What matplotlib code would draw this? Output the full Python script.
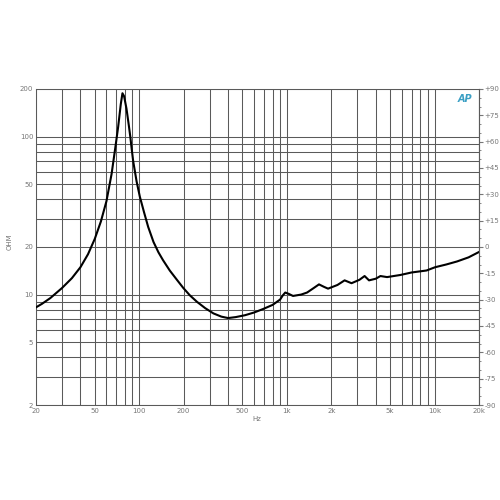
import matplotlib.pyplot as plt
from matplotlib.ticker import FixedLocator, NullFormatter, MultipleLocator

# impedance curve (Hz, ohm)
freq = [20, 22, 25, 30, 35, 40, 45, 50, 55, 60, 65, 69, 72, 75, 77, 79, 82, 85,
        87, 89, 91, 96, 101, 108, 115, 125, 135, 145, 161, 180, 199, 220, 246,
        280, 318, 360, 400, 450, 520, 600, 690, 800, 900, 940, 975, 1030, 1100,
        1250, 1370, 1520, 1650, 1780, 1900, 2200, 2460, 2740, 3100, 3360, 3600,
        4000, 4300, 4770, 5860, 7000, 8820, 10100, 12000, 14200, 17000, 20000]
ohm = [8.3, 8.75, 9.5, 11.0, 12.7, 14.9, 18.0, 22.5, 29, 39, 58, 86, 115, 160,
       188, 180, 150, 118, 100, 83, 70, 52, 41.6, 33, 26.8, 21.5, 18.5, 16.5,
       14.2, 12.4, 11.0, 9.9, 9.0, 8.2, 7.6, 7.25, 7.1, 7.2, 7.4, 7.7, 8.1, 8.6,
       9.3, 9.9, 10.3, 10.1, 9.8, 10.0, 10.3, 11.0, 11.6, 11.2, 10.9, 11.5, 12.3,
       11.8, 12.4, 13.1, 12.3, 12.6, 13.1, 12.9, 13.3, 13.8, 14.2, 14.9, 15.5,
       16.2, 17.2, 18.6]

x_ticks = [20, 50, 100, 200, 500, 1000, 2000, 5000, 10000, 20000]
x_labels = ["20", "50", "100", "200", "500", "1k", "2k", "5k", "10k", "20k"]
y_ticks = [2, 5, 10, 20, 50, 100, 200]
y_labels = ["2", "5", "10", "20", "50", "100", "200"]
phase_ticks = list(range(-90, 91, 15))
phase_labels = [("+%d" % p if p > 0 else "%d" % p) for p in phase_ticks]

grey = "#777777"
grid_col = "#5a5a5a"

fig = plt.figure(figsize=(5, 5), dpi=100)
ax = fig.add_axes([0.072, 0.19, 0.886, 0.632])
ax.set_xscale("log")
ax.set_yscale("log")
ax.set_xlim(20, 20000)
ax.set_ylim(2, 200)

# grid: every decade step 1..9
xg = [m * 10 ** e for e in range(1, 5) for m in range(1, 10)]
xg = [v for v in xg if 20 <= v <= 20000]
yg = [m * 10 ** e for e in range(0, 3) for m in range(1, 10)]
yg = [v for v in yg if 2 <= v <= 100] + [200]
for v in xg:
    ax.axvline(v, color=grid_col, lw=0.75, zorder=1)
for v in yg:
    ax.axhline(v, color=grid_col, lw=0.75, zorder=1)

ax.plot(freq, ohm, color="black", lw=1.5, zorder=3)

ax.xaxis.set_major_locator(FixedLocator(x_ticks))
ax.set_xticklabels(x_labels)
ax.xaxis.set_minor_formatter(NullFormatter())
ax.yaxis.set_major_locator(FixedLocator(y_ticks))
ax.set_yticklabels(y_labels)
ax.yaxis.set_minor_formatter(NullFormatter())
ax.tick_params(which="both", length=0, labelsize=5, labelcolor=grey, pad=2)
for s in ax.spines.values():
    s.set_color(grid_col)
    s.set_linewidth(0.75)

ax2 = ax.twinx()
ax2.set_ylim(-90, 90)
ax2.set_yticks(phase_ticks)
ax2.set_yticklabels(phase_labels)
ax2.yaxis.set_minor_locator(MultipleLocator(5))
ax2.tick_params(which="major", length=3, labelsize=5, labelcolor=grey,
                color=grey, pad=1)
ax2.tick_params(which="minor", length=1.5, color=grey)
for s in ax2.spines.values():
    s.set_visible(False)
ax2.spines["right"].set_visible(True)
ax2.spines["right"].set_color(grid_col)

fig.text(0.02, 0.516, "OHM", rotation=90, fontsize=5, color=grey,
         ha="center", va="center")
fig.text(0.514, 0.162, "Hz", fontsize=5, color=grey, ha="center", va="center")
ax.text(0.985, 0.985, "AP", transform=ax.transAxes, fontsize=7, color="#3a9fc4",
        style="italic", fontweight="bold", ha="right", va="top", zorder=4)

fig.savefig("out.png", dpi=100, facecolor="white")
